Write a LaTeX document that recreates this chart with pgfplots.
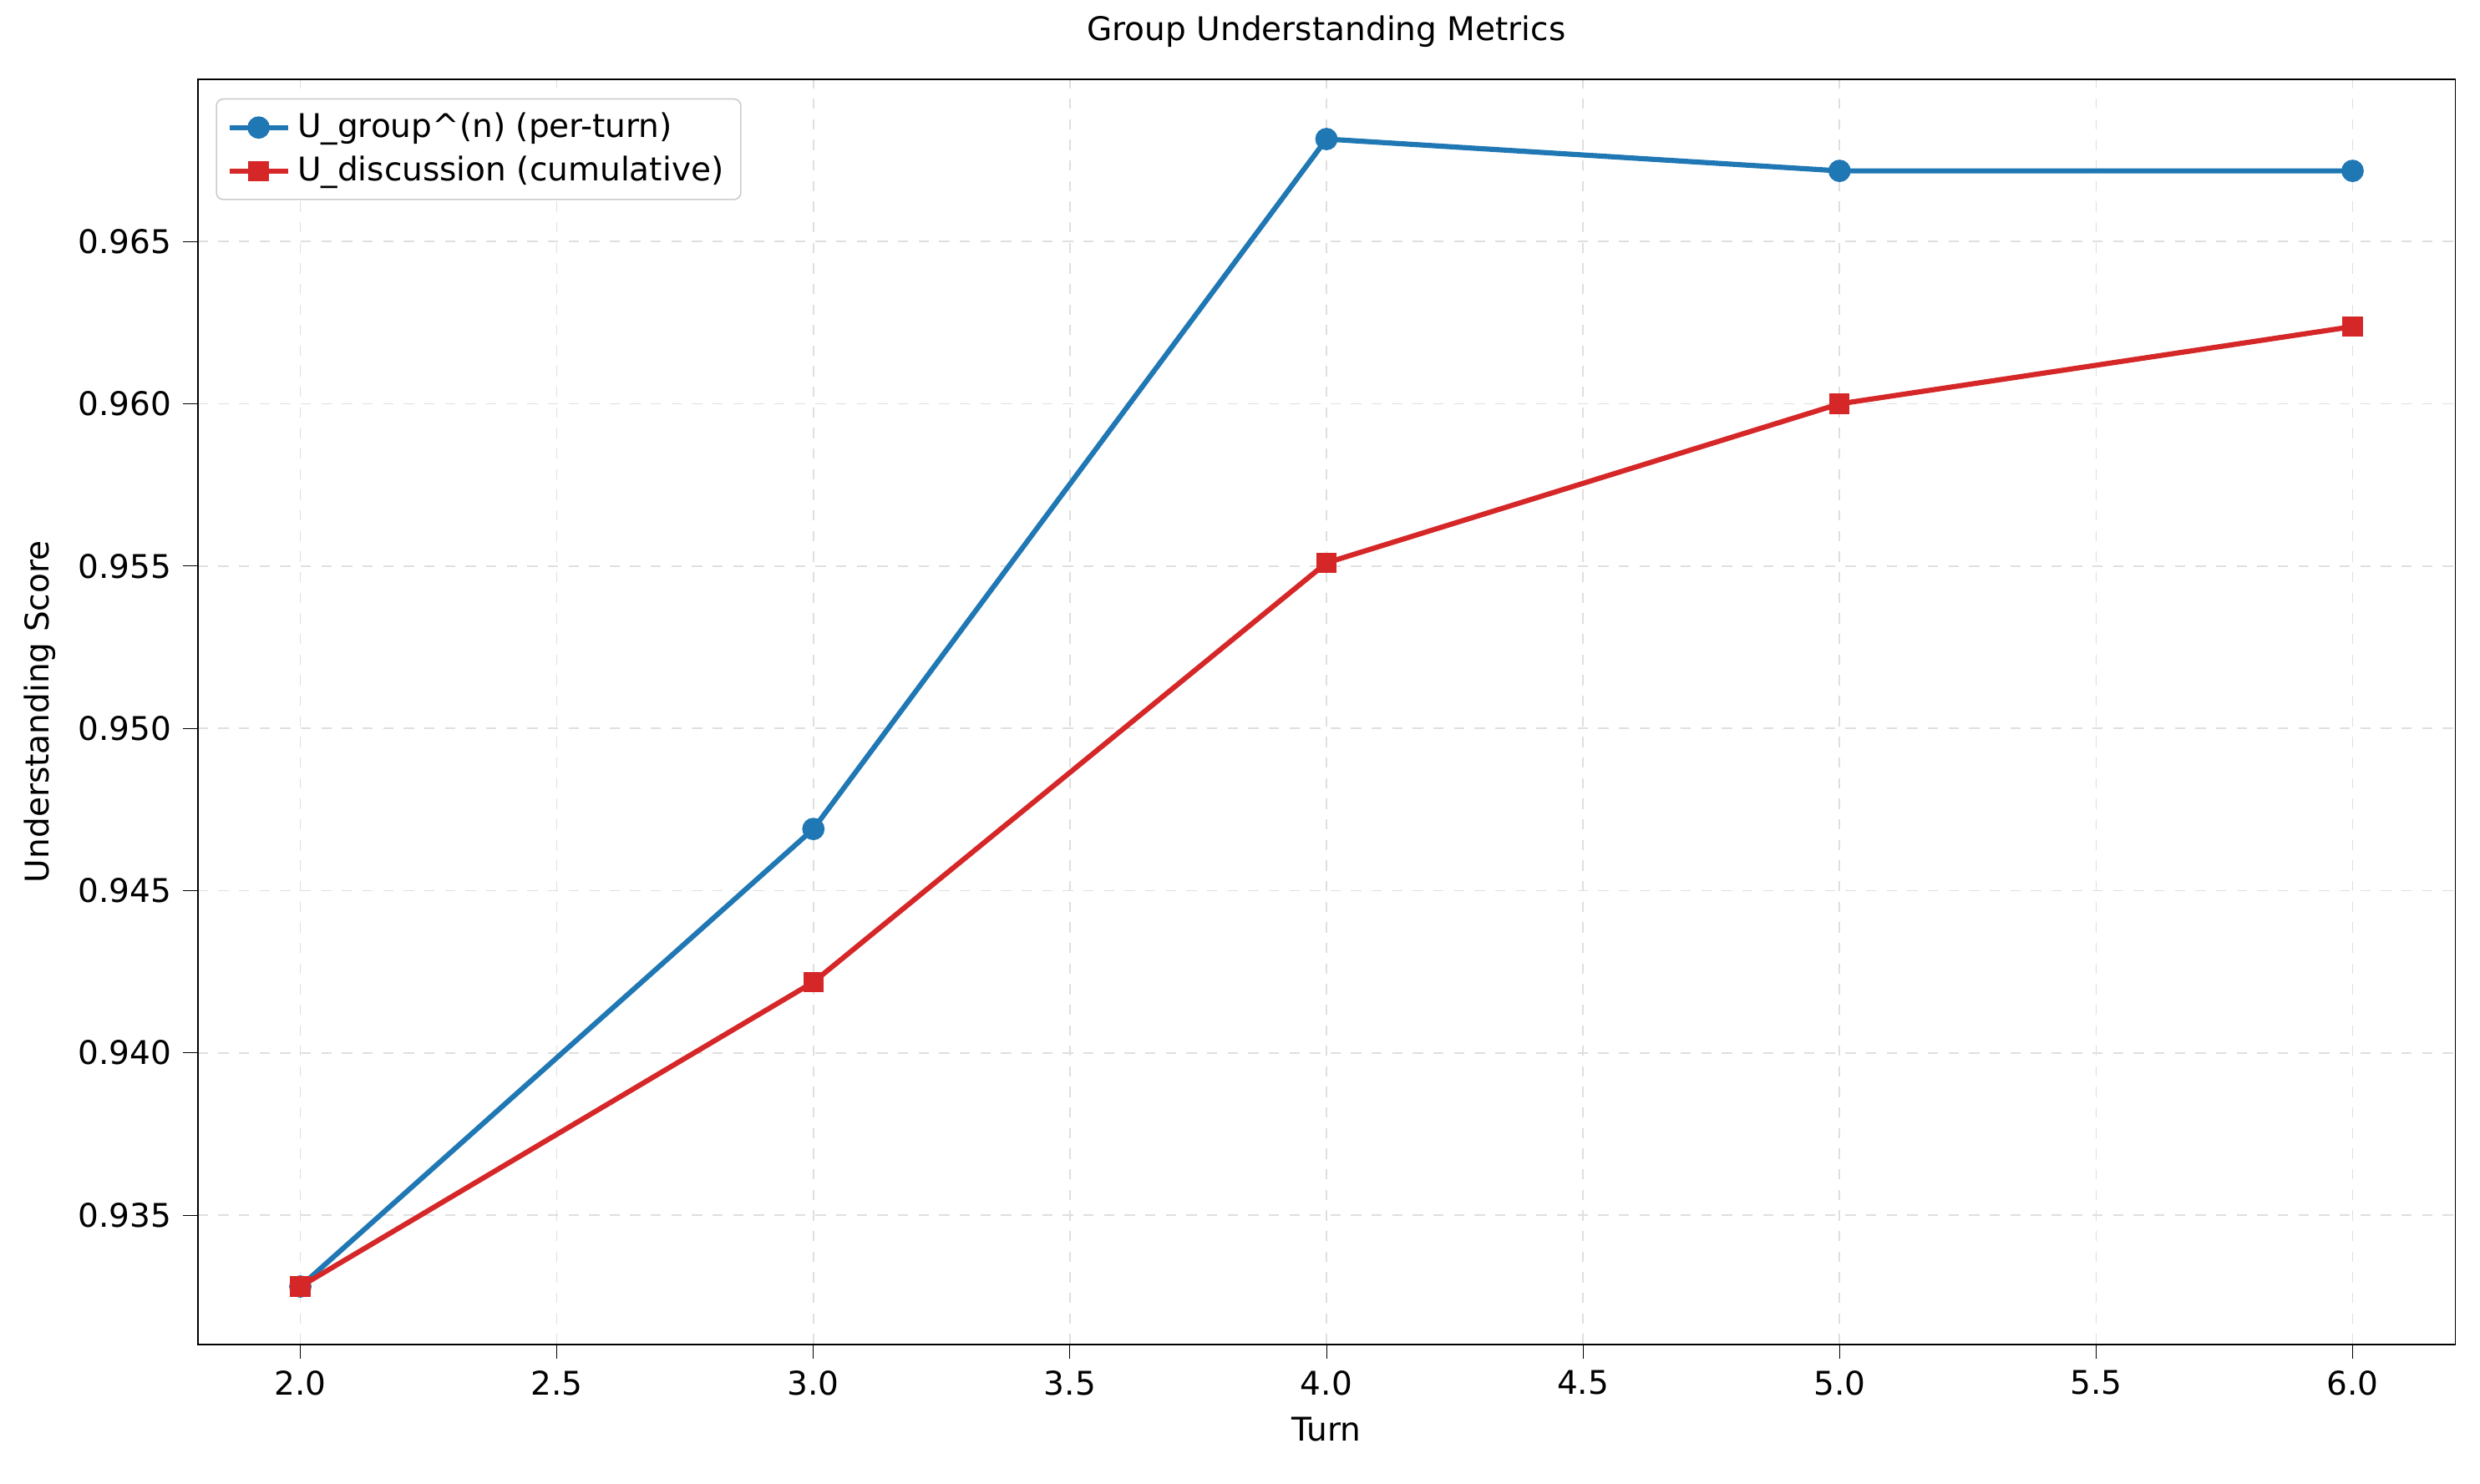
\documentclass[border=0pt]{standalone}
\usepackage{pgfplots}
\pgfplotsset{compat=1.18}
\usepackage{fontspec}
\setmainfont{DejaVu Sans}
\definecolor{mblue}{HTML}{1F77B4}
\definecolor{mred}{HTML}{D62728}
\begin{document}
\fontsize{9.5}{11.5}\selectfont
\begin{tikzpicture}
\useasboundingbox (-0.797in,-0.56in) rectangle (9.20in,5.42in);
\begin{axis}[
  scale only axis, width=9.10in, height=5.10in,
  xmin=1.8, xmax=6.2, ymin=0.93102, ymax=0.97000,
  xtick={2,2.5,...,6},
  ytick={0.935,0.940,0.945,0.950,0.955,0.960,0.965},
  /pgf/number format/assume math mode=true,
  xticklabel style={/pgf/number format/.cd,fixed,fixed zerofill,precision=1},
  yticklabel style={/pgf/number format/.cd,fixed,fixed zerofill,precision=3},
  grid=major, grid style={dashed,gray!25},
  tick align=outside, tick style={black}, xtick pos=bottom, ytick pos=left,
  title={Group Understanding Metrics},
  xlabel={Turn}, ylabel={Understanding Score},
  legend style={at={(0.008,0.985)}, anchor=north west, font=\fontsize{9.5}{11.5}\selectfont, draw=gray!40, rounded corners=2pt},
  legend cell align=left,
]
\addplot[mblue, line width=1.5pt, mark=*, mark size=2.5pt] coordinates {
(2,0.9328) (3,0.9469) (4,0.96816) (5,0.96718) (6,0.96718)};
\addlegendentry{U\_group\^{}(n) (per-turn)}
\addplot[mred, line width=1.5pt, mark=square*, mark size=2.2pt] coordinates {
(2,0.9328) (3,0.94218) (4,0.9551) (5,0.9600) (6,0.96238)};
\addlegendentry{U\_discussion (cumulative)}
\end{axis}
\end{tikzpicture}
\end{document}
